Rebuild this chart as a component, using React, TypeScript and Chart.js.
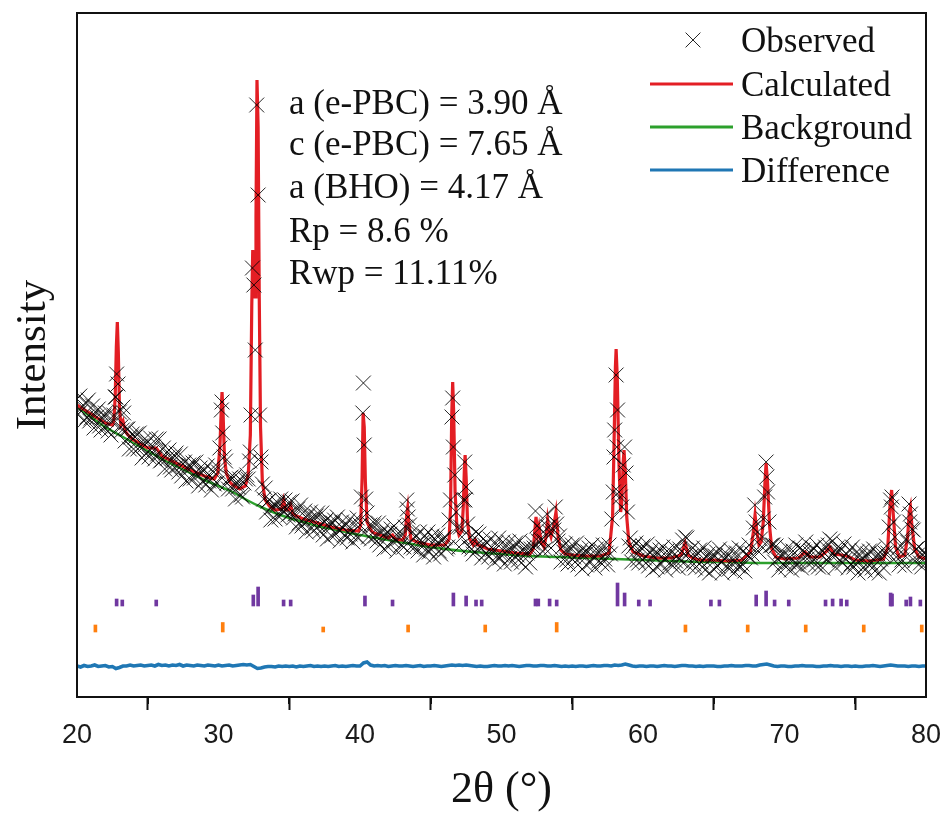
import React, { useEffect, useRef } from 'react';
import { Chart, registerables } from 'chart.js';

Chart.register(...registerables);

// ---------- axis ----------
const X_MIN = 20;
const X_MAX = 80;
const X_MAJOR_TICKS = [20, 30, 40, 50, 60, 70, 80];
const X_MINOR_TICKS = [25, 35, 45, 55, 65, 75];
const Y_MIN = 0;
const Y_MAX = 684;

const X_TITLE = '2θ (°)';
const Y_TITLE = 'Intensity';

const LEGEND_LABELS = ['Observed', 'Calculated', 'Background', 'Difference'];
const ANNOTATION_LINES = [
  'a (e-PBC) = 3.90 Å',
  'c (e-PBC) = 7.65 Å',
  'a (BHO) = 4.17 Å',
  'Rp = 8.6 %',
  'Rwp = 11.11%',
];

// ---------- observed (2θ grid 20.0 .. 80.0, step 0.1) ----------
const OBS_X_START = 20;
const OBS_X_STEP = 0.1;
const OBS_Y = [
  298, 283, 301, 286, 290, 276, 294, 280, 297, 276, // 20
  279, 291, 269, 285, 280, 288, 271, 267, 279, 281, // 21
  284, 271, 266, 284, 262, 275, 282, 300, 323, 313, // 22
  285, 270, 267, 284, 256, 268, 268, 248, 260, 263, // 23
  248, 260, 263, 248, 264, 251, 239, 257, 252, 244, // 24
  255, 240, 259, 245, 250, 238, 258, 243, 258, 236, // 25
  237, 249, 228, 244, 239, 247, 230, 227, 239, 241, // 26
  244, 231, 225, 243, 221, 233, 235, 216, 229, 232, // 27
  218, 230, 234, 219, 235, 223, 211, 229, 224, 216, // 28
  227, 212, 231, 216, 221, 207, 226, 213, 232, 214, // 29
  225, 249, 287, 264, 240, 236, 214, 208, 219, 220, // 30
  208, 220, 198, 214, 210, 218, 202, 200, 214, 218, // 31
  222, 218, 236, 282, 429, 412, 347, 592, 502, 282, // 32
  240, 213, 198, 209, 185, 196, 197, 177, 190, 193, // 33
  178, 191, 194, 180, 198, 187, 185, 197, 188, 182, // 34
  195, 184, 196, 179, 183, 170, 188, 174, 192, 171, // 35
  174, 186, 165, 181, 177, 185, 169, 166, 178, 181, // 36
  184, 171, 166, 184, 162, 175, 177, 158, 171, 175, // 37
  161, 174, 177, 163, 180, 167, 156, 175, 169, 162, // 38
  173, 159, 177, 163, 168, 155, 174, 161, 179, 159, // 39
  172, 200, 284, 252, 198, 184, 160, 172, 158, 171, // 40
  174, 161, 156, 174, 152, 164, 167, 148, 161, 165, // 41
  150, 163, 168, 156, 171, 157, 146, 164, 159, 152, // 42
  163, 150, 170, 197, 180, 172, 150, 165, 149, 160, // 43
  161, 146, 165, 151, 155, 142, 161, 148, 165, 145, // 44
  148, 161, 140, 157, 153, 162, 146, 143, 156, 159, // 45
  160, 148, 150, 177, 197, 280, 250, 222, 185, 170, // 46
  150, 170, 160, 197, 235, 210, 173, 150, 160, 148, // 47
  143, 159, 165, 148, 163, 150, 139, 158, 152, 144, // 48
  154, 140, 158, 144, 148, 135, 154, 141, 159, 139, // 49
  142, 155, 133, 150, 146, 155, 139, 135, 148, 151, // 50
  154, 142, 137, 156, 134, 146, 149, 130, 144, 148, // 51
  134, 148, 154, 149, 186, 171, 156, 169, 157, 146, // 52
  156, 148, 183, 170, 165, 149, 173, 167, 190, 173, // 53
  156, 161, 135, 150, 145, 153, 137, 133, 146, 149, // 54
  152, 140, 135, 154, 132, 144, 147, 128, 142, 146, // 55
  132, 145, 149, 135, 152, 140, 129, 148, 143, 136, // 56
  147, 133, 152, 138, 144, 132, 152, 143, 178, 205, // 57
  267, 322, 287, 205, 200, 190, 232, 250, 224, 185, // 58
  151, 159, 135, 150, 145, 154, 137, 134, 146, 149, // 59
  151, 139, 134, 153, 131, 144, 147, 127, 141, 145, // 60
  130, 143, 147, 133, 150, 138, 127, 146, 141, 134, // 61
  145, 131, 150, 136, 141, 129, 148, 136, 157, 143, // 62
  160, 159, 131, 146, 141, 149, 133, 129, 142, 144, // 63
  147, 135, 130, 149, 127, 140, 143, 124, 138, 142, // 64
  128, 141, 145, 131, 148, 135, 124, 143, 138, 131, // 65
  142, 128, 147, 133, 138, 125, 144, 131, 149, 130, // 66
  133, 146, 126, 143, 141, 152, 139, 143, 169, 192, // 67
  175, 165, 145, 158, 150, 178, 200, 235, 205, 175, // 68
  151, 152, 152, 135, 151, 138, 127, 145, 140, 133, // 69
  144, 130, 149, 135, 140, 127, 146, 133, 152, 132, // 70
  135, 149, 129, 147, 145, 155, 138, 133, 144, 146, // 71
  149, 137, 132, 152, 130, 143, 147, 129, 144, 150, // 72
  137, 152, 158, 142, 156, 142, 130, 149, 144, 137, // 73
  148, 134, 153, 138, 143, 129, 147, 133, 150, 130, // 74
  133, 145, 124, 141, 137, 146, 130, 127, 140, 143, // 75
  146, 134, 129, 148, 126, 140, 143, 124, 138, 143, // 76
  129, 144, 151, 144, 170, 197, 200, 175, 160, 140, // 77
  148, 132, 151, 137, 143, 131, 158, 155, 193, 183, // 78
  168, 167, 136, 148, 142, 150, 134, 130, 142, 145, // 79
  142, // 80
];
// additional observed points read on the peak flanks [2θ, intensity]
const OBS_EXTRA: [number, number][] = [
  [22.75, 300], [23.25, 290], [30.25, 295], [32.25, 245], [33.0, 235],
  [40.24, 314], [43.35, 188], [46.55, 299], [47.42, 197], [57.95, 240],
  [58.15, 250], [68.75, 220], [77.55, 190], [78.85, 175],
];

// ---------- calculated profile [2θ, intensity] ----------
const CALC: [number, number][] = [
  [20, 292], [21, 283], [22, 274], [22.5, 272], [22.6, 276], [22.7, 300], [22.78, 350], [22.85, 375],
  [22.92, 345], [23.0, 290], [23.1, 272], [23.25, 276], [23.4, 266], [23.6, 262], [24, 257], [25, 249],
  [25.6, 249], [26, 241], [27, 234], [28, 227], [29, 221], [29.7, 218], [29.95, 224], [30.1, 250],
  [30.2, 290], [30.25, 305], [30.32, 285], [30.42, 240], [30.55, 224], [30.8, 215], [31, 212], [31.5, 208],
  [31.9, 211], [32.1, 222], [32.25, 262], [32.35, 390], [32.42, 447], [32.5, 410], [32.58, 400], [32.65, 480],
  [32.72, 617], [32.8, 570], [32.88, 400], [32.97, 270], [33.1, 215], [33.3, 197], [33.6, 191], [34, 187],
  [34.45, 188], [34.6, 197], [34.75, 187], [34.95, 187], [35.1, 192], [35.25, 183], [35.5, 181], [36, 178],
  [37, 174], [38, 170], [39, 167], [39.9, 166], [40.05, 172], [40.15, 220], [40.22, 284], [40.3, 270],
  [40.38, 215], [40.5, 175], [40.8, 166], [41, 164], [42, 159], [42.3, 162], [42.5, 158], [43, 157],
  [43.2, 162], [43.3, 182], [43.37, 189], [43.45, 175], [43.6, 158], [44, 155], [45, 152], [46, 152],
  [46.3, 158], [46.4, 190], [46.48, 280], [46.55, 315], [46.62, 285], [46.72, 205], [46.85, 170], [47, 162],
  [47.2, 166], [47.3, 190], [47.38, 230], [47.43, 242], [47.5, 220], [47.6, 175], [47.75, 158], [48, 152],
  [48.15, 157], [48.3, 152], [48.6, 151], [49, 148], [50, 146], [51, 144], [52, 143], [52.25, 148],
  [52.35, 165], [52.44, 180], [52.55, 162], [52.65, 170], [52.8, 155], [53, 150], [53.15, 160], [53.26, 177],
  [53.38, 165], [53.5, 160], [53.7, 172], [53.85, 185], [54, 160], [54.2, 147], [54.5, 143], [55, 142],
  [56, 141], [57, 141], [57.6, 144], [57.85, 180], [57.95, 250], [58.05, 330], [58.1, 348], [58.18, 320],
  [58.3, 235], [58.42, 185], [58.5, 195], [58.6, 235], [58.66, 247], [58.75, 225], [58.85, 180], [59, 155],
  [59.3, 145], [59.7, 143], [60, 141], [61, 139], [62, 139], [62.7, 142], [62.97, 154], [63.2, 142],
  [63.5, 139], [64, 137], [65, 137], [66, 136], [67, 137], [67.6, 145], [67.8, 165], [67.92, 182],
  [68.05, 165], [68.2, 152], [68.35, 155], [68.5, 175], [68.62, 215], [68.7, 234], [68.8, 215], [68.95, 170],
  [69.1, 148], [69.4, 140], [70, 138], [71, 139], [71.45, 145], [71.8, 140], [72.5, 140], [73, 146],
  [73.2, 150], [73.5, 143], [74, 142], [74.4, 141], [75, 137], [76, 136], [77, 138], [77.3, 150],
  [77.45, 190], [77.57, 207], [77.7, 180], [77.85, 150], [78.1, 140], [78.5, 142], [78.7, 160], [78.82, 185],
  [78.9, 190], [79, 172], [79.2, 148], [79.5, 140], [80, 138],
];

// ---------- background [2θ, intensity] ----------
const BACKGROUND: [number, number][] = [
  [20, 290], [21, 280], [22, 270], [23, 262], [24, 254], [25, 246], [26, 238], [27, 231], [28, 224],
  [29, 217], [30, 211], [31, 205], [32, 197], [33, 190], [34, 184], [35, 179], [36, 175], [37, 171],
  [38, 168], [39, 165], [40, 162], [42, 157], [44, 152], [46, 148], [48, 145], [50, 143], [52, 141],
  [54, 140], [56, 139], [58, 138], [60, 137], [62, 136], [64, 135], [66, 135], [68, 134], [70, 134],
  [75, 134], [80, 134],
];

// ---------- difference (2θ grid 20.0 .. 80.0, step 0.25) ----------
const DIFF_X_START = 20;
const DIFF_X_STEP = 0.25;
const DIFF_Y = [
  31, 30, 31.5, 30.5, 31, 32, 30.5, 31, 31.5, 30,
  30.5, 28.5, 29.5, 31, 31, 32, 31, 31.5, 32, 31,
  31.5, 32, 31, 32.5, 31.5, 32, 31, 32, 31.5, 32.5,
  31, 32, 31.5, 31, 32, 31.5, 31, 32, 31.5, 31,
  32, 31, 31.5, 32, 31, 31.5, 32, 32.5, 32, 32.5,
  30.5, 28.5, 29, 30, 30.5, 30.5, 30, 31, 30.5, 31,
  30.5, 31, 30, 31, 30.5, 31, 31.5, 30.5, 31, 30.5,
  31, 30.5, 31, 31.5, 30.5, 31, 30.5, 31, 31.5, 31,
  31, 34, 35, 32, 31, 31.5, 31, 31.5, 30.5, 31,
  31.5, 31, 31, 31.5, 31, 30.5, 31, 31.5, 30.5, 31,
  31, 31.5, 31, 30.5, 31, 31.5, 32, 31.5, 32, 31.5,
  32, 31.5, 31, 30.5, 31, 30.5, 30.5, 31, 31.5, 31,
  31, 31.5, 31, 31.5, 31, 30.5, 31, 31.5, 31.5, 31,
  31, 31.5, 31.5, 31, 31, 31.5, 31, 30.5, 31, 30.5,
  31, 30.5, 31, 31, 30.5, 31, 31.5, 31, 31, 31.5,
  31.5, 31, 32, 31.5, 32, 33, 32, 31, 30.5, 31,
  31, 30.5, 31, 31, 30.5, 31, 31.5, 31, 31, 30.5,
  31, 31.5, 31.5, 31, 31, 30.5, 31, 30.5, 31, 31,
  31, 30.5, 30.5, 31, 31, 31.5, 31, 31, 31, 31.5,
  31.5, 31, 31, 32, 32.5, 33, 32, 31, 30.5, 31,
  31, 30.5, 30.5, 31, 31, 31.5, 31, 31, 31, 30.5,
  30.5, 31, 31, 31.5, 31, 31, 30.5, 31, 31, 30.5,
  31, 30.5, 30.5, 31, 31, 31.5, 31, 30.5, 31, 31.5,
  32, 31.5, 31, 31, 31, 30.5, 31, 31, 30.5, 31,
  31,
];

// ---------- Bragg reflection markers ----------
const PHASE1_POS = [
  22.8, 23.2, 25.6, 32.46, 32.8, 34.6, 35.1, 40.35, 42.3, 46.6, 47.5, 48.2, 48.6,
  52.4, 52.6, 53.4, 53.9, 58.2, 58.7, 59.7, 60.5, 64.8, 65.4, 68.0, 68.7, 69.3, 70.3,
  72.9, 73.4, 74.0, 74.4, 77.5, 77.6, 78.6, 78.9, 79.6,
];
const PHASE1_TOP = [
  98, 97, 97, 102, 110, 97, 97, 101, 97, 104, 101, 97, 97,
  98, 98, 98, 97, 114, 104, 97, 97, 97, 97, 102, 106, 97, 97,
  97, 98, 98, 97, 104, 103, 97, 100, 97,
];
const PHASE1_BASE = 91;

const PHASE2_POS = [21.3, 30.3, 37.4, 43.4, 48.85, 53.9, 63.0, 67.4, 71.5, 75.6, 79.7];
const PHASE2_TOP = [72, 74.5, 70, 72, 72, 74.5, 72, 72, 72, 72, 72];
const PHASE2_BASE = 65;

// ---------- colours ----------
const C_OBS = 'rgba(0,0,0,0.85)';
const C_CALC = '#e31e24';
const C_BG = '#2ca02c';
const C_DIFF = '#1f77b4';
const C_PHASE1 = '#7038a0';
const C_PHASE2 = '#ff7f0e';

const SERIF = '"Liberation Serif", "Times New Roman", serif';
const SANS = '"Liberation Sans", Arial, sans-serif';

function buildObs() {
  const pts = OBS_Y.map((y, i) => ({ x: +(OBS_X_START + i * OBS_X_STEP).toFixed(2), y }));
  OBS_EXTRA.forEach(([x, y]) => pts.push({ x, y }));
  return pts;
}

const overlayPlugin = {
  id: 'overlay',
  afterDraw(chart: any) {
    const { ctx, chartArea: a, scales } = chart;
    const xs = scales.x;
    ctx.save();
    ctx.strokeStyle = '#111';
    ctx.lineWidth = 2;
    // minor ticks
    X_MINOR_TICKS.forEach((v) => {
      const px = Math.round(xs.getPixelForValue(v));
      ctx.beginPath();
      ctx.moveTo(px, a.bottom);
      ctx.lineTo(px, a.bottom + 7);
      ctx.stroke();
    });
    // frame
    ctx.strokeRect(a.left, a.top, a.right - a.left, a.bottom - a.top);

    // legend
    ctx.font = `35px ${SERIF}`;
    ctx.fillStyle = '#111';
    ctx.textAlign = 'left';
    ctx.textBaseline = 'alphabetic';
    const legX = 741;
    const legY = [40, 84, 127, 170];
    const lineColors = [null, C_CALC, C_BG, C_DIFF];
    LEGEND_LABELS.forEach((lab, i) => {
      const cy = legY[i];
      if (i === 0) {
        ctx.strokeStyle = 'rgba(0,0,0,0.85)';
        ctx.lineWidth = 1;
        const d = 7.4;
        ctx.beginPath();
        ctx.moveTo(693 - d, cy - d);
        ctx.lineTo(693 + d, cy + d);
        ctx.moveTo(693 + d, cy - d);
        ctx.lineTo(693 - d, cy + d);
        ctx.stroke();
      } else {
        ctx.strokeStyle = lineColors[i] as string;
        ctx.lineWidth = 3;
        ctx.beginPath();
        ctx.moveTo(650, cy);
        ctx.lineTo(733, cy);
        ctx.stroke();
      }
      ctx.fillText(lab, legX, cy + 11.5);
    });

    // annotation block
    const annY = [102, 143, 186, 230, 272];
    ANNOTATION_LINES.forEach((t, i) => {
      ctx.fillText(t, 289, annY[i] + 11.5);
    });
    ctx.restore();
  },
};

export default function App() {
  const ref = useRef<HTMLCanvasElement>(null);
  useEffect(() => {
    const canvas = ref.current;
    if (!canvas) return;
    const chart = new Chart(canvas, {
      type: 'line',
      data: {
        datasets: [
          {
            label: LEGEND_LABELS[0],
            data: buildObs(),
            showLine: false,
            pointStyle: 'crossRot',
            pointRadius: 10.5,
            pointHoverRadius: 10.5,
            pointBorderColor: C_OBS,
            pointBackgroundColor: 'transparent',
            pointBorderWidth: 1,
            borderColor: C_OBS,
          } as any,
          {
            label: LEGEND_LABELS[1],
            data: CALC.map(([x, y]) => ({ x, y })),
            borderColor: C_CALC,
            borderWidth: 3.2,
            pointRadius: 0,
            tension: 0,
          },
          {
            label: LEGEND_LABELS[2],
            data: BACKGROUND.map(([x, y]) => ({ x, y })),
            borderColor: C_BG,
            borderWidth: 2.5,
            pointRadius: 0,
            tension: 0.3,
          },
          {
            label: LEGEND_LABELS[3],
            data: DIFF_Y.map((y, i) => ({ x: DIFF_X_START + i * DIFF_X_STEP, y })),
            borderColor: C_DIFF,
            borderWidth: 3.6,
            pointRadius: 0,
            tension: 0,
          },
          {
            type: 'bar',
            label: 'phase1',
            data: PHASE1_POS.map((x, i) => ({ x, y: [PHASE1_BASE, PHASE1_TOP[i]] })),
            backgroundColor: C_PHASE1,
            barThickness: 3,
            grouped: false,
            borderWidth: 0,
          } as any,
          {
            type: 'bar',
            label: 'phase2',
            data: PHASE2_POS.map((x, i) => ({ x, y: [PHASE2_BASE, PHASE2_TOP[i]] })),
            backgroundColor: C_PHASE2,
            barThickness: 3,
            grouped: false,
            borderWidth: 0,
          } as any,
        ],
      },
      options: {
        animation: false,
        responsive: false,
        devicePixelRatio: 1,
        events: [],
        layout: { padding: { top: 13, right: 21, left: 0, bottom: 0 } },
        plugins: {
          legend: { display: false },
          tooltip: { enabled: false },
          title: { display: false },
        },
        scales: {
          x: {
            type: 'linear',
            min: X_MIN,
            max: X_MAX,
            offset: false,
            afterBuildTicks: (scale: any) => {
              scale.ticks = X_MAJOR_TICKS.map((v) => ({ value: v }));
            },
            afterFit: (scale: any) => {
              scale.height = 120;
              scale.paddingLeft = 0;
              scale.paddingRight = 0;
            },
            grid: {
              drawOnChartArea: false,
              drawTicks: true,
              tickLength: 13,
              tickWidth: 2,
              tickColor: '#111',
            },
            border: { display: false },
            ticks: {
              autoSkip: false,
              maxRotation: 0,
              padding: 9,
              color: '#1a1a1a',
              font: { family: SANS, size: 27 },
              callback: (v: any) => String(v),
            },
            title: {
              display: true,
              text: X_TITLE,
              color: '#111',
              font: { family: SERIF, size: 44 },
              padding: { top: 0, bottom: 0 },
            },
          },
          y: {
            type: 'linear',
            min: Y_MIN,
            max: Y_MAX,
            afterFit: (scale: any) => {
              scale.width = 77;
            },
            grid: { display: false },
            border: { display: false },
            ticks: { display: false },
            title: {
              display: true,
              text: Y_TITLE,
              color: '#111',
              font: { family: SERIF, size: 43 },
              padding: { top: 8, bottom: 0 },
            },
          },
        },
      },
      plugins: [overlayPlugin],
    } as any);
    return () => chart.destroy();
  }, []);

  return (
    <div style={{ position: 'absolute', left: 0, top: 0, width: 947, height: 817, background: '#fff' }}>
      <canvas ref={ref} width={947} height={817} style={{ display: 'block' }} />
    </div>
  );
}
